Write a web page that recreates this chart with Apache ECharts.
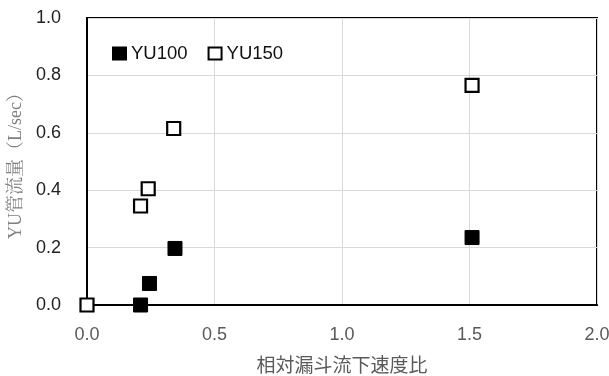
<!DOCTYPE html>
<html><head><meta charset="utf-8">
<script src="https://cdn.jsdelivr.net/npm/echarts@6/dist/echarts.min.js"></script>
<style>html,body{margin:0;padding:0;background:#fff}#c{width:609px;height:376px}</style>
</head><body><div id="c"></div>
<script>
const seriesNames = ['YU100', 'YU150'];
const yu100 = [[0.21, 0.0], [0.245, 0.075], [0.345, 0.197], [1.51, 0.235]];
const yu150 = [[0.0, 0.0], [0.21, 0.345], [0.24, 0.405], [0.34, 0.615], [1.51, 0.765]];
const xTicks = [0, 0.5, 1.0, 1.5, 2.0];
const yTicks = [0, 0.2, 0.4, 0.6, 0.8, 1.0];
const xTitle = '相対漏斗流下速度比';
const yTitle = 'YU管流量（L/sec）';

const chart = echarts.init(document.getElementById('c'), null, {renderer: 'canvas'});
chart.setOption({
  animation: false,
  backgroundColor: '#fff',
  grid: {left: 87, right: 12, top: 18, bottom: 71, show: true, borderColor: '#000', borderWidth: 2, containLabel: false, outerBoundsMode: 'none'},
  legend: {
    left: 107, top: 39, itemWidth: 13, itemHeight: 12, itemGap: 20,
    textStyle: {fontSize: 18.5, color: '#111', fontFamily: 'Liberation Sans, Arial, sans-serif'},
    data: [{name: seriesNames[0], icon: 'rect'}, {name: seriesNames[1], icon: 'rect'}]
  },
  xAxis: {
    type: 'value', min: xTicks[0], max: xTicks[xTicks.length - 1], interval: 0.5,
    axisLine: {show: true, onZero: false, lineStyle: {color: '#000', width: 2}},
    axisTick: {show: false},
    splitLine: {show: true, lineStyle: {color: '#d9d9d9', width: 1}},
    axisLabel: {fontSize: 18, color: '#595959', margin: 21, formatter: v => v.toFixed(1), fontFamily: 'Liberation Sans, Arial, sans-serif'},
    name: xTitle, nameLocation: 'middle', nameGap: 50,
    nameTextStyle: {fontSize: 19, color: '#595959', fontFamily: 'Noto Sans CJK JP'}
  },
  yAxis: {
    type: 'value', min: yTicks[0], max: yTicks[yTicks.length - 1], interval: 0.2,
    axisLine: {show: true, onZero: false, lineStyle: {color: '#000', width: 2}},
    axisTick: {show: false},
    splitLine: {show: true, lineStyle: {color: '#d9d9d9', width: 1}},
    axisLabel: {fontSize: 18, color: '#222', margin: 26, formatter: v => v.toFixed(1), fontFamily: 'Liberation Sans, Arial, sans-serif'},
    name: yTitle, nameLocation: 'middle', nameGap: 62, nameRotate: 90,
    nameTextStyle: {fontSize: 18, color: '#7f7f7f', fontFamily: 'Liberation Serif, Noto Serif CJK JP, Noto Sans CJK JP, serif'}
  },
  series: [
    {name: seriesNames[0], type: 'scatter', data: yu100, symbol: 'rect', symbolSize: 14, clip: false,
     itemStyle: {color: '#000', borderColor: '#000', borderWidth: 1, opacity: 1}},
    {name: seriesNames[1], type: 'scatter', data: yu150, symbol: 'rect', symbolSize: 13, clip: false, z: 3,
     itemStyle: {color: '#fff', borderColor: '#000', borderWidth: 2.2, opacity: 1}}
  ]
});
</script></body></html>
